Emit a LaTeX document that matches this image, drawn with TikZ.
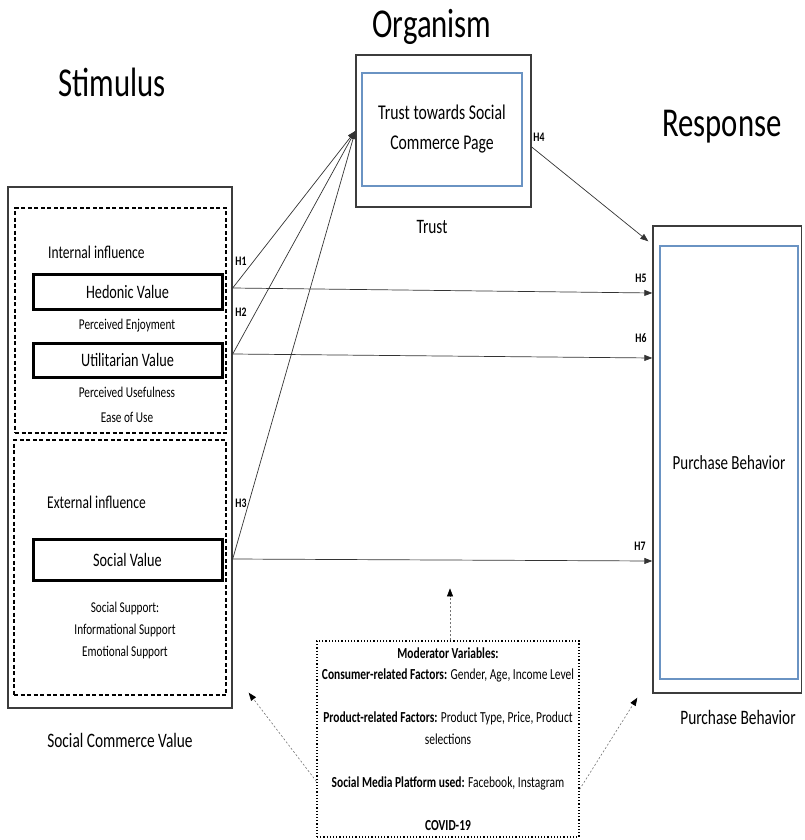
\documentclass[tikz,border=0pt]{standalone}
\usepackage{fontspec}
\setmainfont{Carlito}[FakeStretch=0.75]
\usetikzlibrary{positioning, arrows.meta}

\definecolor{framegray}{HTML}{3C3C3C}
\definecolor{innerblue}{HTML}{6A93C3}

\tikzset{
    heading/.style={font=\fontsize{41}{44}\selectfont, inner sep=0pt},
    caption/.style={font=\fontsize{20.5}{24}\selectfont, inner sep=0pt},
    groupname/.style={font=\fontsize{18}{22}\selectfont, inner sep=0pt},
    outerbox/.style={draw=framegray, line width=1.4pt, inner sep=0pt},
    innerbox/.style={draw=innerblue, line width=1.2pt, inner sep=0pt},
    dashbox/.style={draw, line width=1.3pt, dash pattern=on 4pt off 2.5pt, inner sep=0pt},
    valuebox/.style={draw, line width=3pt, minimum width=189pt, font=\fontsize{19}{22}\selectfont},
    note/.style={font=\fontsize{15}{18}\selectfont, inner sep=0pt},
    hlabel/.style={font=\bfseries\fontsize{13}{15}\selectfont, inner sep=0pt},
    link/.style={draw=black!80, line width=0.7pt, -{Triangle[length=8pt,width=6pt]}},
    modlink/.style={draw=black!55, line width=0.6pt, dash pattern=on 2pt off 2pt,
        -{Triangle[length=8pt,width=6pt,color=black]}}
}

\begin{document}
\begin{tikzpicture}[x=1pt, y=-1pt]
    \useasboundingbox (0,0) rectangle (804,840);

    % headings
    \node[heading] (stimT) at (112,82) {Stimulus};
    \node[heading] (orgT) at (432,27) {Organism};
    \node[heading] (respT) at (722,127) {Response};

    % stimulus side
    \node[outerbox, minimum width=224pt, minimum height=521pt] (stim) at (120,447.5) {};
    \node[dashbox, minimum width=211pt, minimum height=225pt] (intl) at (120.5,320.5) {};
    \node[dashbox, minimum width=212pt, minimum height=255pt] (extl) at (120,567.5) {};

    \node[groupname, anchor=west] (intT) at (48,252) {Internal influence};
    \node[valuebox, minimum height=35pt] (hv) at (127.5,291.5) {Hedonic Value};
    \node[note] (pe) at (127,326) {Perceived Enjoyment};
    \node[valuebox, minimum height=34pt] (uv) at (127.5,360) {Utilitarian Value};
    \node[note] (pu) at (127,392) {Perceived Usefulness};
    \node[note] (eu) at (127,417) {Ease of Use};

    \node[groupname, anchor=west] (extT) at (47,502) {External influence};
    \node[valuebox, minimum height=41pt] (sv) at (127.5,559.5) {Social Value};
    \node[
        note,
        align=center,
        font=\fontsize{15}{22}\selectfont
    ] (ss) at (125,630) {Social Support:\\Informational Support\\Emotional Support};

    \node[caption] (scv) at (120,740) {Social Commerce Value};

    % organism
    \node[outerbox, minimum width=175pt, minimum height=152pt] (org) at (443.5,131) {};
    \node[
        innerbox,
        minimum width=160pt,
        minimum height=113pt,
        align=center,
        font=\fontsize{21}{30}\selectfont
    ] (trust) at (442,129.5) {Trust towards Social\\Commerce Page};
    \node[caption] (trustT) at (432,227) {Trust};

    % response
    \node[outerbox, minimum width=148.5pt, minimum height=467pt] (resp) at (727.25,459.5) {};
    \node[
        innerbox,
        minimum width=138pt,
        minimum height=433pt,
        font=\fontsize{20}{24}\selectfont
    ] (pb) at (729,462.5) {Purchase Behavior};
    \node[caption] (pbT) at (738,717) {Purchase Behavior};

    % moderators
    \node[
        draw,
        dotted,
        line width=1.2pt,
        minimum width=262pt,
        minimum height=196pt,
        align=center,
        font=\fontsize{15.3}{21.5}\selectfont
    ] (mod) at (448,739) {
        \textbf{Moderator Variables:}\\
        \textbf{Consumer-related Factors:} Gender, Age, Income Level\\[21.5pt]
        \textbf{Product-related Factors:} Product Type, Price, Product\\
        selections\\[21.5pt]
        \textbf{Social Media Platform used:} Facebook, Instagram\\[21.5pt]
        \textbf{COVID-19}
    };

    % hypotheses
    \coordinate (h1s) at (stim.east |- 0,288);
    \coordinate (h2s) at (stim.east |- 0,354);
    \coordinate (h3s) at (stim.east |- 0,559);
    \draw[link] (h1s) -- (org.west);
    \draw[link] (h2s) -- (org.west);
    \draw[link] (h3s) -- (org.west);
    \draw[link] (h1s) -- (resp.west |- 0,293);
    \draw[link] (h2s) -- (resp.west |- 0,358);
    \draw[link] (h3s) -- (resp.west |- 0,561);
    \draw[link] ([yshift=-16pt]org.east) -- ([xshift=-4pt, yshift=-16pt]resp.north west);

    \node[hlabel] (H1) at (241,261) {H1};
    \node[hlabel] (H2) at (241,312) {H2};
    \node[hlabel] (H3) at (241,503) {H3};
    \node[hlabel] (H4) at (539,137) {H4};
    \node[hlabel] (H5) at (641,278) {H5};
    \node[hlabel] (H6) at (641,338) {H6};
    \node[hlabel] (H7) at (640,546) {H7};

    % moderator effects
    \draw[modlink] (mod.north -| 450,0) -- ([yshift=52pt]mod.north -| 450,0);
    \draw[modlink] ([yshift=-141pt]mod.north west) -- ([shift={(16pt,16pt)}]stim.south east);
    \draw[modlink] ([yshift=-149pt]mod.north east) -- ([shift={(-15pt,-4pt)}]resp.south west);
\end{tikzpicture}
\end{document}
